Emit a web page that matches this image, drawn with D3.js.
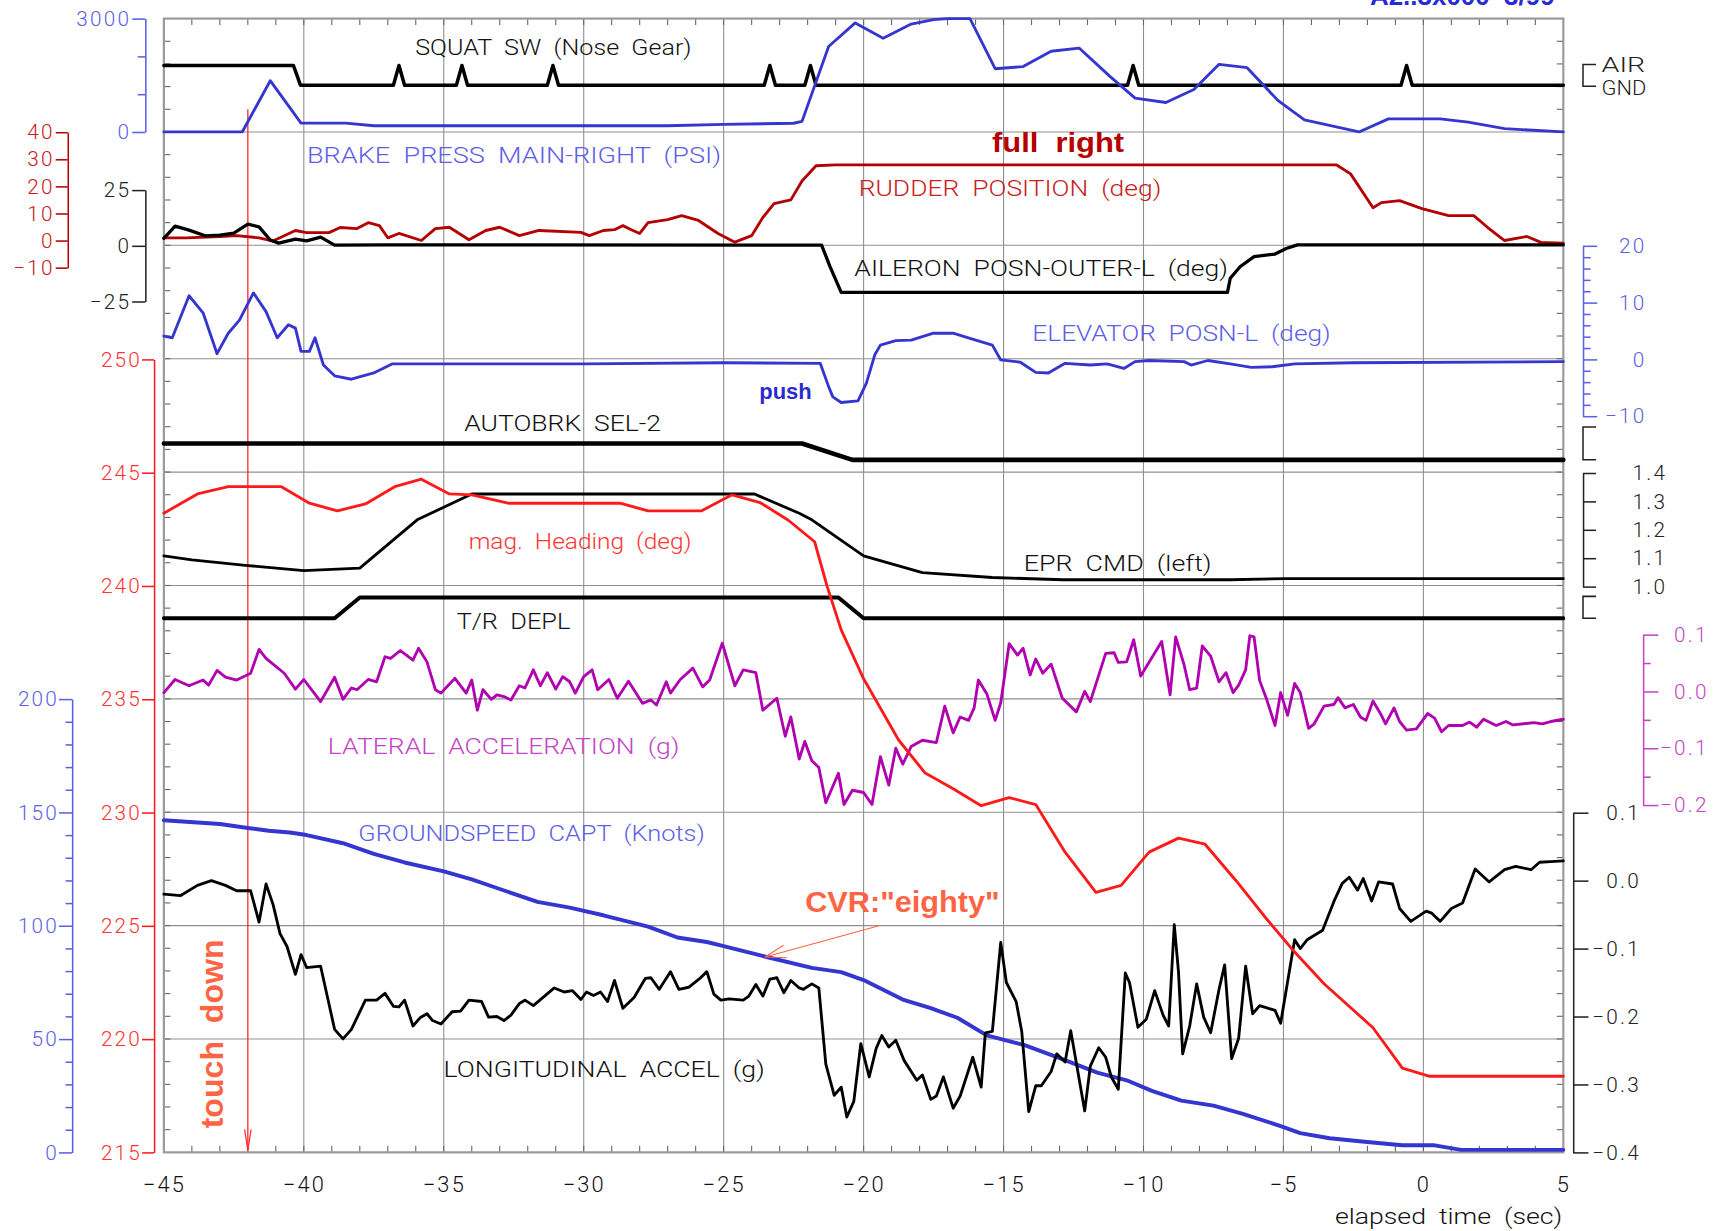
<!DOCTYPE html>
<html><head><meta charset="utf-8">
<script src="https://cdn.jsdelivr.net/npm/d3@7"></script>
<style>
html,body{margin:0;padding:0;background:#fff;}
svg{display:block;}
</style></head><body>
<svg id="c" width="1713" height="1231" viewBox="0 0 1568 1127" preserveAspectRatio="none"></svg>
<script>
// ---------------- DATA (time in seconds, values in native units) ----------------
const timeTicks = [-45,-40,-35,-30,-25,-20,-15,-10,-5,0,5];

const squat = [[-45,1],[-40.37,1],[-40.12,0],[-36.8,0],[-36.6,1],[-36.4,0],[-34.55,0],[-34.35,1],[-34.15,0],
  [-31.3,0],[-31.1,1],[-30.9,0],[-23.55,0],[-23.35,1],[-23.15,0],[-22.1,0],[-21.9,1],[-21.7,0],
  [-10.57,0],[-10.37,1],[-10.17,0],[-0.8,0],[-0.6,1],[-0.4,0],[5,0]];

const brake = [[-45,0],[-42.2,0],[-41.2,1356],[-40.1,235],[-38.5,235],[-37.5,165],[-27,165],[-25,200],[-22.5,230],
  [-22.2,280],[-21.25,2260],[-20.3,2885],[-19.3,2480],[-18.3,2855],[-17.5,2970],[-17.0,3000],[-16.2,3000],
  [-15.3,1673],[-14.3,1730],[-13.3,2135],[-12.3,2220],[-11.2,1470],[-10.3,894],[-9.2,780],[-8.2,1125],
  [-7.3,1790],[-6.3,1700],[-5.2,836],[-4.25,317],[-2.3,0],[-1.25,346],[0.6,346],[1.6,260],[2.9,87],[5,0]];

const rudder = [[-45,1.0],[-44.2,1.0],[-43.0,1.5],[-42.4,1.8],[-41.6,1.0],[-41.1,-0.2],[-40.3,3.7],[-39.9,2.9],
  [-39.1,2.9],[-38.7,4.8],[-38.1,4.4],[-37.7,6.6],[-37.3,5.5],[-37.0,1.0],[-36.6,2.6],[-35.8,0.0],[-35.3,4.4],
  [-34.8,4.9],[-34.1,0.3],[-33.5,3.7],[-33.0,4.9],[-32.3,1.8],[-31.6,3.7],[-30.1,3.0],[-29.8,1.8],[-29.3,3.7],
  [-28.9,4.0],[-28.6,5.5],[-28.3,4.0],[-28.0,2.6],[-27.7,6.6],[-27.0,7.7],[-26.5,9.2],[-25.9,7.4],[-25.2,2.6],
  [-24.6,-0.6],[-24.0,1.8],[-23.6,8.5],[-23.2,13.6],[-22.6,15.0],[-22.2,22],[-21.7,27.6],[-21.0,27.9],
  [-3.1,27.9],[-2.6,24.6],[-1.8,12.1],[-1.5,14.0],[-0.85,14.7],[-0.05,11.8],[0.9,9.2],[1.8,9.2],[2.3,4.8],
  [2.9,0],[3.7,1.5],[4.2,-0.7],[5.0,-1.0]];

const aileron = [[-45,3.3],[-44.6,8.8],[-44.1,7.0],[-43.5,4.4],[-43.0,4.8],[-42.5,5.7],[-42.0,9.7],[-41.6,8.5],
  [-41.2,2.6],[-40.9,1.2],[-40.3,3.0],[-39.9,2.2],[-39.4,3.9],[-38.9,0.3],[-37.1,0.4],[-21.5,0.3],[-21.2,-9.4],
  [-20.8,-20.9],[-7.0,-20.9],[-6.9,-14.6],[-6.55,-9.4],[-6.05,-4.9],[-5.3,-3.7],[-4.9,-1.2],[-4.5,0.4],[5,0.4]];

const elevator = [[-45,4.1],[-44.7,3.8],[-44.1,11.2],[-43.6,8.2],[-43.1,1.0],[-42.7,4.6],[-42.3,6.9],[-41.8,11.7],
  [-41.35,8.4],[-40.95,3.8],[-40.55,6.1],[-40.3,5.5],[-40.1,1.4],[-39.8,1.4],[-39.6,3.8],[-39.3,-1.0],[-38.9,-2.9],
  [-38.3,-3.5],[-37.5,-2.4],[-36.85,-0.8],[-30,-0.8],[-25,-0.6],[-21.55,-0.7],[-21.25,-4.8],[-21.1,-6.6],
  [-20.8,-7.6],[-20.2,-7.3],[-19.9,-4.2],[-19.6,0.8],[-19.4,2.5],[-18.85,3.3],[-18.3,3.4],[-17.5,4.6],[-16.8,4.6],
  [-16.2,3.7],[-15.4,2.5],[-15.1,-0.1],[-14.4,-0.5],[-13.85,-2.3],[-13.4,-2.4],[-12.8,-0.7],[-11.9,-1.0],
  [-11.3,-0.8],[-10.7,-1.6],[-10.3,-0.4],[-9.8,-0.2],[-8.55,-0.4],[-8.3,-1.0],[-7.7,-0.2],[-6.9,-0.8],
  [-6.15,-1.4],[-5.4,-1.3],[-4.6,-0.8],[-2.5,-0.6],[5,-0.4]];

const autobrake = [[-45,1],[-22.2,1],[-20.4,0],[5,0]];

const heading = [[-45,243.21],[-43.8,244.06],[-42.7,244.38],[-40.8,244.38],[-39.8,243.65],[-38.8,243.31],
  [-37.8,243.62],[-36.75,244.38],[-35.8,244.71],[-34.8,244.06],[-34.0,244.02],[-32.7,243.65],[-28.7,243.65],
  [-27.7,243.31],[-25.8,243.31],[-24.7,244.02],[-23.7,243.68],[-22.7,242.91],[-21.75,241.95],[-21.3,239.97],
  [-20.8,238.06],[-20.0,235.9],[-18.75,233.2],[-17.8,231.74],[-16.8,231.05],[-15.8,230.3],[-14.8,230.66],
  [-13.85,230.35],[-12.8,228.25],[-11.7,226.47],[-10.8,226.78],[-9.8,228.25],[-8.75,228.87],[-7.8,228.6],
  [-6.7,227.0],[-5.6,225.3],[-4.6,223.84],[-3.55,222.44],[-1.8,220.5],[-0.75,218.72],[0.2,218.36],[5,218.36]];

const epr = [[-45,1.108],[-44,1.094],[-42,1.074],[-40,1.056],[-38,1.065],[-35.95,1.235],[-34,1.326],[-23.9,1.326],
  [-22.3,1.258],[-21.85,1.235],[-20,1.108],[-17.9,1.049],[-15.4,1.032],[-12.9,1.024],[-6.9,1.024],[-4.9,1.028],[5,1.028]];

const thrustRev = [[-45,0],[-38.9,0],[-38.0,1],[-20.9,1],[-20.0,0],[5,0]];

const lateral = [[-45,-0.002],[-44.6,0.021],[-44.1,0.010],[-43.6,0.020],[-43.4,0.011],[-43.1,0.037],[-42.8,0.025],
  [-42.4,0.020],[-41.9,0.032],[-41.6,0.074],[-41.35,0.058],[-40.7,0.032],[-40.3,0.004],[-40.0,0.021],[-39.4,-0.018],
  [-38.9,0.025],[-38.6,-0.014],[-38.3,0.006],[-38.1,0.003],[-37.7,0.021],[-37.4,0.017],[-37.1,0.061],[-36.9,0.058],
  [-36.55,0.072],[-36.1,0.055],[-35.9,0.076],[-35.6,0.052],[-35.3,0.003],[-35.1,-0.003],[-34.6,0.023],[-34.2,-0.003],
  [-34.0,0.020],[-33.8,-0.033],[-33.6,0.003],[-33.3,-0.014],[-33.1,-0.006],[-32.85,-0.009],[-32.6,-0.015],
  [-32.3,0.010],[-32.1,0.006],[-31.8,0.038],[-31.55,0.010],[-31.3,0.033],[-31.0,0.004],[-30.75,0.026],[-30.5,0.017],
  [-30.3,-0.003],[-30.0,0.026],[-29.7,0.038],[-29.5,0.003],[-29.1,0.021],[-28.8,-0.012],[-28.4,0.018],[-27.9,-0.021],
  [-27.6,-0.015],[-27.4,-0.024],[-27.05,0.017],[-26.9,-0.003],[-26.55,0.021],[-26.1,0.041],[-25.75,0.008],
  [-25.5,0.020],[-25.05,0.085],[-24.6,0.010],[-24.3,0.038],[-23.85,0.033],[-23.6,-0.033],[-23.1,-0.012],
  [-22.8,-0.079],[-22.6,-0.045],[-22.3,-0.119],[-22.1,-0.088],[-21.85,-0.122],[-21.6,-0.134],[-21.35,-0.196],
  [-20.9,-0.144],[-20.7,-0.199],[-20.4,-0.174],[-20.0,-0.178],[-19.7,-0.199],[-19.4,-0.115],[-19.1,-0.165],
  [-18.85,-0.100],[-18.6,-0.128],[-18.3,-0.097],[-17.9,-0.086],[-17.4,-0.090],[-17.1,-0.026],[-16.8,-0.073],
  [-16.55,-0.045],[-16.25,-0.051],[-16.05,-0.029],[-15.9,0.020],[-15.6,-0.004],[-15.3,-0.051],[-15.1,-0.020],
  [-14.8,0.084],[-14.5,0.064],[-14.3,0.076],[-14.05,0.029],[-13.85,0.057],[-13.6,0.032],[-13.3,0.048],
  [-12.9,-0.012],[-12.4,-0.036],[-12.1,0.000],[-11.9,-0.018],[-11.35,0.067],[-11.05,0.068],[-10.9,0.051],
  [-10.6,0.052],[-10.35,0.091],[-10.1,0.027],[-9.35,0.088],[-9.05,-0.006],[-8.85,0.096],[-8.55,0.047],
  [-8.35,0.003],[-8.1,0.006],[-7.9,0.080],[-7.6,0.062],[-7.3,0.017],[-7.05,0.033],[-6.8,-0.002],[-6.6,0.011],
  [-6.35,0.038],[-6.2,0.098],[-6.05,0.096],[-5.85,0.019],[-5.6,-0.014],[-5.3,-0.060],[-5.1,-0.002],[-4.85,-0.042],
  [-4.6,0.014],[-4.4,-0.002],[-4.1,-0.065],[-3.9,-0.057],[-3.55,-0.026],[-3.2,-0.023],[-3.05,-0.011],[-2.8,-0.029],
  [-2.5,-0.023],[-2.25,-0.045],[-2.05,-0.051],[-1.8,-0.017],[-1.5,-0.042],[-1.35,-0.057],[-1.05,-0.029],
  [-0.85,-0.053],[-0.6,-0.068],[-0.25,-0.066],[0.15,-0.039],[0.4,-0.047],[0.65,-0.071],[0.9,-0.060],[1.4,-0.060],
  [1.65,-0.054],[1.9,-0.063],[2.15,-0.049],[2.6,-0.060],[2.95,-0.053],[3.2,-0.059],[3.95,-0.055],[4.25,-0.057],
  [4.55,-0.053],[5.0,-0.049]];

const groundspeed = [[-45,146.5],[-43.0,144.9],[-42.0,143.1],[-41.25,141.9],[-40.5,141.1],[-39.9,140.0],
  [-38.6,136.4],[-37.5,131.7],[-36.4,127.9],[-35.0,124.0],[-34.0,120.4],[-33.0,116.2],[-31.65,110.5],[-30.5,108.0],
  [-29.3,104.6],[-27.7,99.6],[-26.65,94.8],[-25.6,92.8],[-25.0,91.0],[-23.5,86.3],[-21.85,81.4],[-20.8,79.5],
  [-20.0,76.0],[-18.6,67.4],[-17.6,63.6],[-16.65,59.4],[-15.6,51.6],[-14.25,47.3],[-12.9,41.1],[-11.65,35.2],
  [-10.6,31.8],[-9.7,27.1],[-8.65,22.8],[-7.5,20.6],[-6.45,17.0],[-5.1,11.6],[-4.4,8.5],[-3.35,6.2],[-2.1,4.7],
  [-0.75,3.1],[0.4,3.1],[1.35,1.1],[5,1.1]];

const longAccel = [[-45,-0.020],[-44.4,-0.022],[-43.8,-0.007],[-43.3,0.000],[-42.8,-0.007],[-42.4,-0.015],
  [-41.9,-0.015],[-41.6,-0.061],[-41.35,-0.005],[-41.1,-0.035],[-40.85,-0.078],[-40.6,-0.097],[-40.3,-0.138],
  [-40.1,-0.109],[-39.9,-0.128],[-39.4,-0.126],[-38.9,-0.219],[-38.6,-0.233],[-38.3,-0.219],[-37.8,-0.176],
  [-37.4,-0.176],[-37.1,-0.166],[-36.8,-0.185],[-36.6,-0.186],[-36.4,-0.176],[-36.1,-0.214],[-35.85,-0.202],
  [-35.6,-0.196],[-35.4,-0.206],[-35.1,-0.211],[-34.7,-0.193],[-34.4,-0.192],[-34.1,-0.176],[-33.65,-0.178],
  [-33.4,-0.201],[-33.1,-0.200],[-32.85,-0.206],[-32.6,-0.198],[-32.3,-0.181],[-32.1,-0.176],[-31.8,-0.184],
  [-31.05,-0.158],[-30.7,-0.164],[-30.4,-0.162],[-30.1,-0.175],[-29.9,-0.164],[-29.65,-0.169],[-29.4,-0.164],
  [-29.15,-0.178],[-28.9,-0.147],[-28.6,-0.188],[-28.2,-0.172],[-27.8,-0.144],[-27.6,-0.143],[-27.3,-0.160],
  [-26.9,-0.134],[-26.6,-0.160],[-26.25,-0.157],[-25.85,-0.144],[-25.6,-0.134],[-25.35,-0.167],[-25.1,-0.176],
  [-24.8,-0.174],[-24.3,-0.176],[-24.1,-0.170],[-23.85,-0.153],[-23.6,-0.170],[-23.35,-0.145],[-23.1,-0.143],
  [-22.85,-0.165],[-22.6,-0.147],[-22.3,-0.158],[-22.15,-0.160],[-21.85,-0.152],[-21.6,-0.158],[-21.35,-0.270],
  [-21.05,-0.316],[-20.8,-0.304],[-20.6,-0.348],[-20.35,-0.325],[-20.1,-0.240],[-19.8,-0.289],[-19.55,-0.247],
  [-19.35,-0.228],[-19.1,-0.245],[-18.85,-0.235],[-18.55,-0.265],[-18.1,-0.294],[-17.9,-0.286],[-17.6,-0.322],
  [-17.4,-0.317],[-17.15,-0.289],[-16.8,-0.335],[-16.55,-0.317],[-16.1,-0.260],[-15.8,-0.304],[-15.65,-0.224],
  [-15.4,-0.222],[-15.1,-0.091],[-14.9,-0.150],[-14.55,-0.178],[-14.35,-0.222],[-14.1,-0.340],[-13.85,-0.302],
  [-13.65,-0.302],[-13.3,-0.281],[-13.1,-0.255],[-12.9,-0.263],[-12.8,-0.267],[-12.6,-0.221],[-12.4,-0.268],
  [-12.1,-0.339],[-11.9,-0.273],[-11.6,-0.246],[-11.35,-0.260],[-11.15,-0.289],[-10.9,-0.307],[-10.65,-0.136],
  [-10.5,-0.150],[-10.2,-0.216],[-9.9,-0.204],[-9.6,-0.162],[-9.3,-0.198],[-9.1,-0.214],[-8.9,-0.065],
  [-8.75,-0.134],[-8.6,-0.255],[-8.35,-0.214],[-8.1,-0.152],[-7.85,-0.201],[-7.6,-0.224],[-7.3,-0.160],
  [-7.1,-0.124],[-6.85,-0.262],[-6.6,-0.232],[-6.35,-0.126],[-6.1,-0.196],[-5.85,-0.184],[-5.3,-0.191],
  [-5.1,-0.210],[-4.6,-0.087],[-4.4,-0.100],[-4.15,-0.087],[-3.6,-0.073],[-3.2,-0.031],[-2.9,-0.004],
  [-2.65,0.005],[-2.35,-0.014],[-2.15,0.003],[-1.85,-0.030],[-1.6,-0.002],[-1.1,-0.005],[-0.85,-0.041],
  [-0.45,-0.060],[0.1,-0.045],[0.3,-0.048],[0.6,-0.060],[1.0,-0.041],[1.4,-0.033],[1.85,0.017],[2.35,-0.002],
  [2.9,0.016],[3.3,0.021],[3.85,0.016],[4.15,0.027],[4.55,0.028],[5,0.029]];

// tick label sets
const brakeTicks = [0,3000], brakeMinor = [1000,2000];
const rudderTicks = [-10,0,10,20,30,40];
const aileronTicks = [-25,0,25];
const headingTicks = [215,220,225,230,235,240,245,250];
const gsTicks = [0,50,100,150,200], gsMinor = [10,20,30,40,60,70,80,90,110,120,130,140,160,170,180,190];
const elevTicks = [-10,0,10,20], elevMinor = [-8,-6,-4,-2,2,4,6,8,12,14,16,18];
const eprTicks = [1.0,1.1,1.2,1.3,1.4];
const latTicks = [-0.2,-0.1,0.0,0.1], latMinor = [-0.15,-0.05,0.05];
const lonTicks = [-0.4,-0.3,-0.2,-0.1,0.0,0.1];

// event markers
const touchdownTime = -42;
const cvrTime = -23.52, cvrGs = 86.2, cvrTailTime = -19.45, cvrTailGs = 100;

// ---------------- DRAWING ----------------
const svg = d3.select("#c");
const L = 150, R = 1431, T = 17, B = 1055;
const band = i => T + i * (B - T) / 10;
const FONT = "Roboto, 'DejaVu Sans', sans-serif";
const BOLD = "'Liberation Sans', Arial, sans-serif";

const BLUE = "#3535cf", BLUE_T = "#5e5ee6", DRED = "#b40000", DRED_T = "#c82020",
      RED = "#ff1a1a", RED_T = "#ff3333", MAG = "#b000b0", MAG_T = "#c444c8", ORANGE = "#ff6444", GRID = "#8f8f8f";

const x = d3.scaleLinear([-45, 5], [L, R]);
const yBrake = d3.scaleLinear([0, 3000], [band(1), band(0)]);
const ySquat = d3.scaleLinear([0, 1], [78, 60]);
const yRudder = d3.scaleLinear([-10, 40], [245, 121]);
const yAil = d3.scaleLinear([-25, 25], [276, 174]);
const yElev = d3.scaleLinear([-10, 20], [381, 225]);
const yAuto = d3.scaleLinear([0, 2], [421, 391]);
const yEpr = d3.scaleLinear([1.0, 1.4], [537, 433]);
const yTR = d3.scaleLinear([0, 1], [566, 547]);
const yHead = d3.scaleLinear([215, 250], [B, 329]);
const yLat = d3.scaleLinear([-0.2, 0.1], [737, 581]);
const yGs = d3.scaleLinear([0, 200], [B, 640]);
const yLon = d3.scaleLinear([-0.4, 0.1], [B, 744]);

// grid
const grid = svg.append("g");
for (let i = 1; i <= 9; i++)
  grid.append("line").attr("x1", L).attr("x2", R).attr("y1", band(i)).attr("y2", band(i))
    .attr("stroke", GRID).attr("stroke-width", 1);
timeTicks.slice(1, -1).forEach(t =>
  grid.append("line").attr("x1", x(t)).attr("x2", x(t)).attr("y1", T).attr("y2", B)
    .attr("stroke", GRID).attr("stroke-width", 1));

// frame minor ticks
const fr = svg.append("g").attr("stroke", "#666").attr("stroke-width", 1);
d3.range(-44, 5).forEach(t => {
  fr.append("line").attr("x1", x(t)).attr("x2", x(t)).attr("y1", T).attr("y2", T + 6);
  fr.append("line").attr("x1", x(t)).attr("x2", x(t)).attr("y1", B).attr("y2", B - 6);
});
d3.range(1, 50).forEach(k => {
  const yy = T + k * (B - T) / 50;
  fr.append("line").attr("x1", L).attr("x2", L + 6).attr("y1", yy).attr("y2", yy);
  fr.append("line").attr("x1", R).attr("x2", R - 6).attr("y1", yy).attr("y2", yy);
});
svg.append("rect").attr("x", L).attr("y", T).attr("width", R - L).attr("height", B - T)
  .attr("fill", "none").attr("stroke", "#9a9a9a").attr("stroke-width", 2);

// x axis labels
const xa = svg.append("g").attr("transform", `translate(0,${B})`)
  .call(d3.axisBottom(x).tickValues(timeTicks).tickSize(0).tickPadding(0).tickFormat(d3.format("d")));
xa.select(".domain").remove();
xa.selectAll("text").attr("font-size", 20).attr("font-family", FONT).attr("font-weight", 300)
  .attr("fill", "#111").attr("dy", 0).attr("y", 36).style("letter-spacing", "2px");

// axis helper
function axis(scale, xpos, side, ticks, minor, len, minorLen, fmt, color, tcolor, labelX, anchor) {
  const mk = side === "left" ? d3.axisLeft : d3.axisRight;
  const g = svg.append("g").attr("transform", `translate(${xpos},0)`)
    .call(mk(scale).tickValues(ticks).tickSize(len).tickSizeOuter(0).tickPadding(3).tickFormat(fmt));
  g.select(".domain").attr("stroke", color).attr("stroke-width", 1.4);
  g.selectAll(".tick line").attr("stroke", color).attr("stroke-width", 1.4);
  const tx = g.selectAll(".tick text").attr("fill", tcolor).attr("font-size", 19)
    .attr("font-family", FONT).attr("font-weight", 300).style("letter-spacing", "2px");
  if (labelX !== undefined) tx.attr("x", labelX).attr("text-anchor", anchor || "end");
  if (minor) {
    const m = svg.append("g").attr("transform", `translate(${xpos},0)`)
      .call(mk(scale).tickValues(minor).tickSize(minorLen).tickSizeOuter(0).tickFormat(""));
    m.select(".domain").remove();
    m.selectAll(".tick line").attr("stroke", color).attr("stroke-width", 1.4);
  }
  return g;
}
const fmtD = d3.format("d"), fmt1 = d3.format(".1f");
axis(yBrake, 133, "left", brakeTicks, brakeMinor, 12, 7, fmtD, BLUE_T, BLUE_T, -13);
axis(yRudder, 62, "left", rudderTicks, null, 11, 0, fmtD, DRED, DRED_T, -12);
axis(yAil, 133, "left", aileronTicks, null, 12, 0, fmtD, "#222", "#222", -13);
axis(yHead, 141, "left", headingTicks, null, 11, 0, fmtD, RED, RED_T, -11);
axis(yGs, 66, "left", gsTicks, gsMinor, 12, 6, fmtD, BLUE_T, BLUE_T, -12);
axis(yElev, 1449, "right", elevTicks, elevMinor, 13, 7, fmtD, BLUE_T, BLUE_T, 58);
axis(yEpr, 1449, "right", eprTicks, null, 12, 0, fmt1, "#222", "#222", 77);
axis(yLat, 1504, "right", latTicks, latMinor, 14, 7, fmt1, MAG_T, MAG_T, 60);
axis(yLon, 1440, "right", lonTicks, null, 14, 0, fmt1, "#222", "#222", 62);

// brackets
function bracket(y1, y2) {
  svg.append("path").attr("d", `M1461,${y1}H1449V${y2}H1461`).attr("fill", "none")
    .attr("stroke", "#222").attr("stroke-width", 1.4);
}
bracket(ySquat(1) - 1, ySquat(0) + 1);
bracket(yAuto(2), yAuto(0));
bracket(yTR(1) - 1, yTR(0));
function label(txt, x0, y0, w, color, opts = {}) {
  const t = svg.append("text").attr("x", x0).attr("y", y0).text(txt)
    .attr("fill", color).attr("font-size", opts.size || 20)
    .attr("font-family", opts.bold ? BOLD : FONT).attr("font-weight", opts.bold ? 700 : 300)
    .style("white-space", "pre");
  if (w) t.attr("textLength", w).attr("lengthAdjust", "spacingAndGlyphs");
  if (opts.rotate) t.attr("transform", `rotate(-90,${x0},${y0})`);
  return t;
}
label("AIR", 1466, 66, 40, "#222", {size: 19});
label("GND", 1466, 87, 41, "#222", {size: 19});

// touchdown marker
const tdx = x(touchdownTime);
svg.append("line").attr("x1", tdx).attr("x2", tdx).attr("y1", yBrake(600)).attr("y2", B - 1)
  .attr("stroke", "#ff2a2a").attr("stroke-width", 1.2);
svg.append("path").attr("d", `M${tdx - 3},${B - 21}L${tdx},${B - 2}L${tdx + 3},${B - 21}`)
  .attr("fill", "none").attr("stroke", "#ff2a2a").attr("stroke-width", 1.1);

// series
function series(data, ys, color, w) {
  svg.append("path").datum(data)
    .attr("d", d3.line().x(d => x(d[0])).y(d => ys(d[1])))
    .attr("fill", "none").attr("stroke", color).attr("stroke-width", w)
    .attr("stroke-linejoin", "round").attr("stroke-linecap", "round");
}
series(squat, ySquat, "#000", 3.2);
series(brake, yBrake, BLUE, 2.6);
series(rudder, yRudder, DRED, 2.6);
series(aileron, yAil, "#000", 3);
series(elevator, yElev, BLUE, 2.6);
series(autobrake, yAuto, "#000", 4.2);
series(epr, yEpr, "#000", 2.6);
series(thrustRev, yTR, "#000", 3.6);
series(lateral, yLat, MAG, 2.6);
series(groundspeed, yGs, BLUE, 3.6);
series(longAccel, yLon, "#000", 2.6);
series(heading, yHead, RED, 2.6);

// CVR arrow
const tipX = x(cvrTime), tipY = yGs(cvrGs), tailX = x(cvrTailTime), tailY = yGs(cvrTailGs);
svg.append("line").attr("x1", tailX).attr("y1", tailY).attr("x2", tipX).attr("y2", tipY)
  .attr("stroke", ORANGE).attr("stroke-width", 1);
const ang = Math.atan2(tailY - tipY, tailX - tipX);
[0.3, -0.3].forEach(a => {
  svg.append("line").attr("x1", tipX).attr("y1", tipY)
    .attr("x2", tipX + 20 * Math.cos(ang + a)).attr("y2", tipY + 20 * Math.sin(ang + a))
    .attr("stroke", ORANGE).attr("stroke-width", 1);
});

// labels
label("SQUAT  SW  (Nose  Gear)", 380, 50, 253, "#111");
label("BRAKE  PRESS  MAIN-RIGHT  (PSI)", 281, 149.5, 379, BLUE_T);
label("full  right", 908, 139, 121, DRED, {bold: true, size: 25});
label("RUDDER  POSITION  (deg)", 786, 179.5, 277, DRED_T);
label("AILERON  POSN-OUTER-L  (deg)", 782, 252.5, 342, "#111");
label("ELEVATOR  POSN-L  (deg)", 945, 312, 273, BLUE_T);
label("push", 695, 365.5, 48, "#2a2ad0", {bold: true, size: 20});
label("AUTOBRK  SEL-2", 425, 395, 180, "#111");
label("mag.  Heading  (deg)", 429, 503, 204, RED_T);
label("EPR  CMD  (left)", 937, 522.5, 172, "#111");
label("T/R  DEPL", 418, 576, 104, "#111");
label("LATERAL  ACCELERATION  (g)", 300, 690.7, 322, MAG_T);
label("GROUNDSPEED  CAPT  (Knots)", 328, 770.4, 317, BLUE_T);
label("CVR:\"eighty\"", 737, 835.4, 178, ORANGE, {bold: true, size: 27});
label("LONGITUDINAL  ACCEL  (g)", 406, 986, 294, "#111");
label("touch  down", 204, 1033, 173, ORANGE, {bold: true, size: 28, rotate: true});
label("elapsed  time  (sec)", 1222, 1121, 208, "#111");
label("A2..3x000  3/99", 1254, 4.5, 169, "#2a2ad8", {bold: true, size: 24});
</script>
</body></html>
